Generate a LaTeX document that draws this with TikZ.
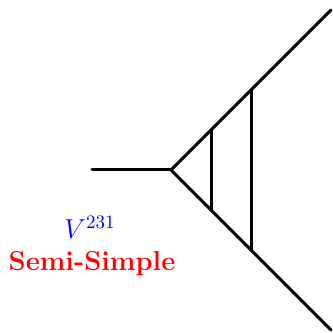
\documentclass[tikz,border=0pt]{standalone}
\usepackage{xcolor}
\usepackage{amsmath}
\usepackage{tikz}
\usetikzlibrary{calc}
\tikzset{
  leg/.style={line width=3pt, line cap=round},
  lbl/.style={inner sep=0pt, align=center, scale=1.9},
}
\begin{document}
\begin{tikzpicture}[x=1pt,y=1pt]
        \useasboundingbox (0,0) rectangle (333,333);
        \coordinate (ext) at (92,163);
        \coordinate (apex) at (171,163);
        \coordinate (topin) at (211,203);
        \coordinate (topout) at (251,243);
        \coordinate (topend) at (331,323);
        \coordinate (botin) at (211,123);
        \coordinate (botout) at (251,83);
        \coordinate (botend) at (331,3);
        \draw[leg] (ext) -- (apex);
        \draw[leg] (apex) -- (topin) -- (topout) -- (topend);
        \draw[leg] (apex) -- (botin) -- (botout) -- (botend);
        \draw[leg] (topin) -- (botin);
        \draw[leg] (topout) -- (botout);
        \node[lbl, text=blue, font=\Large] (vert) at (90,105.5) {$V^{231}$};
        \node[lbl, text=red, font=\Large\bfseries] (kind) at (92,69) {Semi-Simple};
      \end{tikzpicture}
\end{document}
